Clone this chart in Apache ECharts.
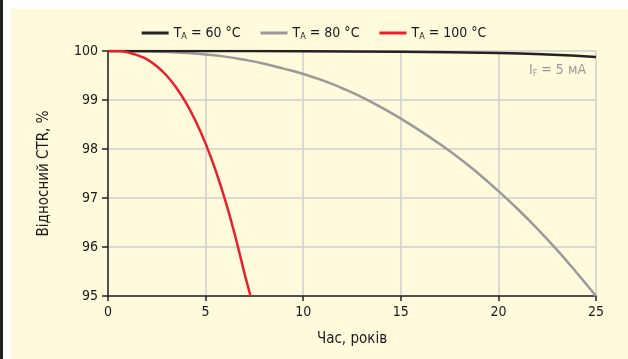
<!DOCTYPE html>
<html>
<head>
<meta charset="utf-8">
<script src="https://cdn.jsdelivr.net/npm/echarts@6/dist/echarts.min.js"></script>
<style>
  html, body { margin: 0; padding: 0; background: #fff; }
  #ctr_chart { width: 628px; height: 359px; }
</style>
</head>
<body>
<div id="ctr_chart"></div>
<script>
// роки / відносний CTR, %
const xTicks = [0, 5, 10, 15, 20, 25];
const yTicks = [95, 96, 97, 98, 99, 100];

const names = ['60', '80', '100'];

const t60 = [0, 5, 10, 15, 20, 22.5, 25];
const v60 = [100, 100, 99.995, 99.985, 99.96, 99.93, 99.88];

const t80 = [0, 1, 2, 3, 4, 5, 6, 7, 8, 9, 10, 11, 12, 13, 14, 15, 16, 17, 18, 19, 20, 21, 22, 23, 24, 25];
const v80 = [100, 99.998, 99.992, 99.98, 99.96, 99.93, 99.885, 99.82, 99.74, 99.64, 99.53, 99.4, 99.24, 99.06,
  98.85, 98.62, 98.37, 98.1, 97.81, 97.49, 97.14, 96.77, 96.37, 95.94, 95.48, 95.0];

const t100 = [0, 0.5, 1, 1.5, 2, 2.5, 3, 3.5, 4, 4.5, 5, 5.5, 6, 6.5, 7, 7.3];
const v100 = [100, 99.999, 99.975, 99.915, 99.83, 99.69, 99.5, 99.25, 98.94, 98.56, 98.11, 97.58, 96.96, 96.25, 95.45, 95.0];

function pairs(t, v) {
  return t.map((x, i) => [x, v[i]]);
}

const font = '"DejaVu Sans Condensed", "Liberation Sans Narrow", sans-serif';

let option = {
  animation: false,
  textStyle: { fontFamily: font },
  graphic: [
    // фон
    { type: 'rect', z: -10, silent: true, shape: { x: 0, y: 0, width: 3, height: 359 }, style: { fill: '#222' } },
    { type: 'rect', z: -10, silent: true, shape: { x: 11, y: 9, width: 617, height: 350 }, style: { fill: '#fffadc' } },
    {
      type: 'text', right: 42, top: 63, z: 10,
      style: {
        text: '{a|I}{s|F}{a| = 5 мА}',
        rich: {
          a: { fontSize: 14, fill: '#999', fontFamily: font },
          s: { fontSize: 9, fill: '#999', fontFamily: font, padding: [7, 0, 0, 0] }
        }
      }
    }
  ],
  legend: {
    top: 21,
    left: 'center',
    itemWidth: 27,
    itemHeight: 3,
    itemGap: 20,
    icon: 'rect',
    data: names,
    formatter(name) {
      return '{a|T}{s|A}{a| = ' + name + ' °C}';
    },
    textStyle: {
      rich: {
        a: { fontSize: 14, color: '#1a1a1a', fontFamily: font },
        s: { fontSize: 9, color: '#1a1a1a', fontFamily: font, padding: [7, 0, 0, 0] }
      }
    }
  },
  grid: { left: 108, right: 32, top: 51, bottom: 63 },
  xAxis: {
    type: 'value',
    min: 0, max: 25, interval: 5,
    name: 'Час, років',
    nameLocation: 'middle',
    nameGap: 36,
    nameTextStyle: { fontSize: 15, color: '#1a1a1a', fontFamily: font },
    axisLine: { lineStyle: { color: '#222', width: 1.5 } },
    axisTick: { show: true, length: 5, lineStyle: { color: '#222', width: 1.5 } },
    axisLabel: { fontSize: 14, color: '#1a1a1a', margin: 9 },
    splitLine: { show: true, lineStyle: { color: '#cfcfcf', width: 1.5 } }
  },
  yAxis: {
    type: 'value',
    min: 95, max: 100, interval: 1,
    name: 'Відносний CTR, %',
    nameLocation: 'middle',
    nameGap: 56,
    nameTextStyle: { fontSize: 15, color: '#1a1a1a', fontFamily: font },
    axisLine: { show: true, lineStyle: { color: '#222', width: 1.5 } },
    axisTick: { show: true, length: 6, lineStyle: { color: '#222', width: 1.5 } },
    axisLabel: { fontSize: 14, color: '#1a1a1a', margin: 10 },
    splitLine: { show: true, lineStyle: { color: '#cfcfcf', width: 1.5 } }
  },
  series: [
    {
      name: '60', type: 'line', smooth: true, showSymbol: false,
      lineStyle: { color: '#222', width: 2.5 }, itemStyle: { color: '#222' },
      data: pairs(t60, v60), z: 3
    },
    {
      name: '80', type: 'line', smooth: true, showSymbol: false,
      lineStyle: { color: '#9a9a9a', width: 2.5 }, itemStyle: { color: '#9a9a9a' },
      data: pairs(t80, v80), z: 2
    },
    {
      name: '100', type: 'line', smooth: 0.3, showSymbol: false,
      lineStyle: { color: '#e8202a', width: 2.5 }, itemStyle: { color: '#e8202a' },
      data: pairs(t100, v100), z: 4
    }
  ]
};

let myChart = echarts.init(document.getElementById('ctr_chart'));
myChart.setOption(option);
</script>
</body>
</html>
